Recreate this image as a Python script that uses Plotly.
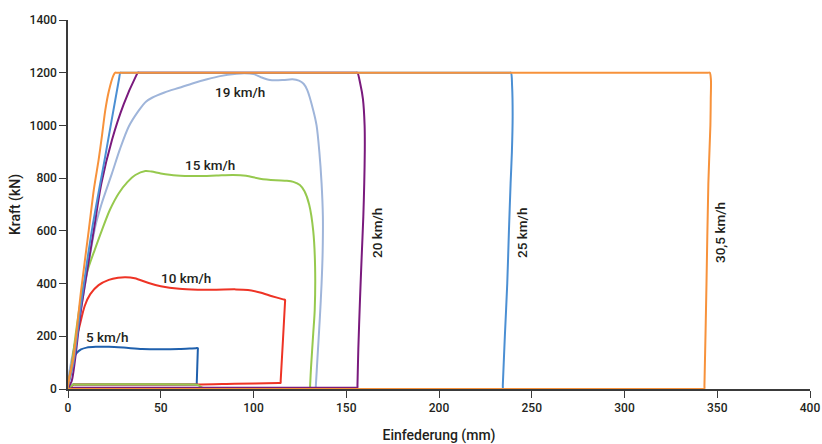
import plotly.graph_objects as go

# ---- data (Einfederung mm, Kraft kN) ----
v5_x = [0, 1.5, 3, 4.5, 7, 10, 15, 22, 30, 40, 50, 60, 69, 70, 69.98, 69.42, 69.4, 68.4, 4, 3, 0]
v5_y = [0, 60, 115, 135, 150, 157, 160, 160, 157, 152, 151, 152, 155, 155, 147, 25, 17, 17, 17.5, 18, 0]

v10_x = [0, 2, 4, 6, 9, 12, 16.5, 22, 27, 31, 36, 43.5, 50, 60, 70, 80, 90, 97, 103.5, 110, 116, 117,
         116.98, 114.65, 114.6, 113.6, 90, 69, 4, 3, 0]
v10_y = [0, 90, 180, 232, 315, 360, 394, 414, 422, 424, 420, 402, 390, 380, 377, 377, 378, 376, 366, 352, 340, 338,
         328, 32, 23, 22.8, 20, 17, 17, 17, 0]

v15_x = [0, 2, 4, 6, 8, 11, 14.5, 18.3, 22.6, 27.3, 32, 36.3, 41.7, 45, 50, 58.6, 70, 80, 89, 96, 103.5, 112,
         118, 121.5, 125, 127.5, 130, 132.2, 133.2, 133, 132.2, 131, 130.52, 130.5, 129.5, 73, 70, 68, 4, 3, 0]
v15_y = [0, 90, 200, 300, 380, 460, 530, 603, 680, 742, 785, 812, 827, 825, 818, 810, 808, 810, 812, 809, 798, 792,
         790, 786, 774, 750, 700, 600, 464, 300, 211, 80, 12, 4, 4, 4, 15, 17, 17.5, 18, 0]

v19_x = [0, 5, 10, 14.7, 18, 23.7, 28, 32.7, 38, 42, 45.3, 52, 60, 67.5, 75, 82, 91, 95, 100, 104, 108.9, 116,
         121, 124.5, 127, 129, 132.2, 134, 135.5, 136.7, 137.4, 137.3, 136.7, 135.8, 134.5, 133.6, 133.5, 132.5,
         4, 3, 0]
v19_y = [0, 220, 430, 616, 700, 818, 910, 995, 1055, 1090, 1105, 1125, 1143, 1160, 1175, 1187, 1196, 1198, 1195,
         1183, 1172, 1172, 1175, 1170, 1158, 1134, 1058, 1000, 900, 780, 654, 527, 400, 274, 120, 12, 4, 4,
         4, 4, 0]

v20_x = [0, 2, 7, 13.9, 18, 23.7, 30, 36.5, 37.7, 38.7, 155, 156, 157.5, 159, 159.9, 160, 159.7, 159.2, 158.3,
         157.4, 156.5, 156.05, 156, 155, 4, 3, 0]
v20_y = [0, 30, 300, 603, 780, 945, 1080, 1185, 1200, 1200, 1200, 1200, 1160, 1100, 1000, 907, 780, 654, 500,
         338, 150, 15, 5, 5, 5, 5, 0]

v25_x = [0, 3, 7, 12.9, 20, 27.6, 28.2, 29.2, 237.8, 238.8, 239.4, 239.7, 239.3, 238.6, 237.7, 236.8, 235.5,
         234.4, 234.3, 233.3, 1, 0]
v25_y = [0, 100, 320, 603, 880, 1180, 1200, 1200, 1200, 1200, 1150, 1033, 900, 780, 600, 401, 200,
         15, 0, 0, 0, 0]

v30_x = [0, 3, 7, 11.2, 14, 16.5, 18.3, 20.1, 22, 24.5, 25.5, 26.5, 345, 346, 346.6, 346.5, 346.3, 345.2, 344.2,
         343.1, 343, 342, 1, 0]
v30_y = [0, 120, 370, 603, 760, 869, 960, 1058, 1130, 1190, 1200, 1200, 1200, 1200, 1172, 1100, 1000, 780, 400,
         15, 0, 0, 0, 0]

labels = ["5 km/h", "10 km/h", "15 km/h", "19 km/h", "20 km/h", "25 km/h", "30,5 km/h"]
label_x = [21.5, 63.6, 76.5, 92.7, 166.6, 244.7, 351.5]
label_y = [198, 421, 850, 1127, 592, 592, 592]
label_angle = [0, 0, 0, 0, -90, -90, -90]

# drawing order: bottom -> top
series = [
    (v5_x, v5_y, "#1f60ad"),
    (v19_x, v19_y, "#9fb5da"),
    (v10_x, v10_y, "#ee3325"),
    (v15_x, v15_y, "#96c94e"),
    (v20_x, v20_y, "#7a1a7d"),
    (v25_x, v25_y, "#4b8fd3"),
    (v30_x, v30_y, "#f7923b"),
]

FONT = "Roboto"
TXT = "#231f20"

fig = go.Figure()
for xs, ys, col in series:
    fig.add_trace(go.Scatter(x=xs, y=ys, mode="lines",
                             line=dict(color=col, width=2, shape="spline", smoothing=0.8, simplify=False),
                             showlegend=False, cliponaxis=False, hoverinfo="skip"))

for t, x, y, a in zip(labels, label_x, label_y, label_angle):
    fig.add_annotation(x=x, y=y, text=t, showarrow=False, textangle=a,
                       font=dict(family=FONT, size=13.5, color=TXT, weight=500))

axis_common = dict(showline=True, linecolor="#3a3a3a", linewidth=1.5, ticks="outside", ticklen=7,
                   tickcolor="#3a3a3a", tickwidth=1.3, showgrid=False, zeroline=False, automargin=False,
                   tickfont=dict(family=FONT, size=12, color=TXT, weight=500), layer="below traces")

fig.update_layout(
    width=822, height=444,
    margin=dict(l=68, r=12, t=20, b=55),
    plot_bgcolor="white", paper_bgcolor="white",
    xaxis=dict(range=[0, 400], dtick=50, title=dict(text="Einfederung (mm)", standoff=16,
               font=dict(family=FONT, size=14, color=TXT, weight=500)), **axis_common),
    yaxis=dict(range=[0, 1400], dtick=200, title=dict(text="Kraft (kN)", standoff=6,
               font=dict(family=FONT, size=14, color=TXT, weight=500)), **axis_common),
)

fig.write_html("out.html", config={"displayModeBar": False},
               post_script="document.body.style.margin='0';")
